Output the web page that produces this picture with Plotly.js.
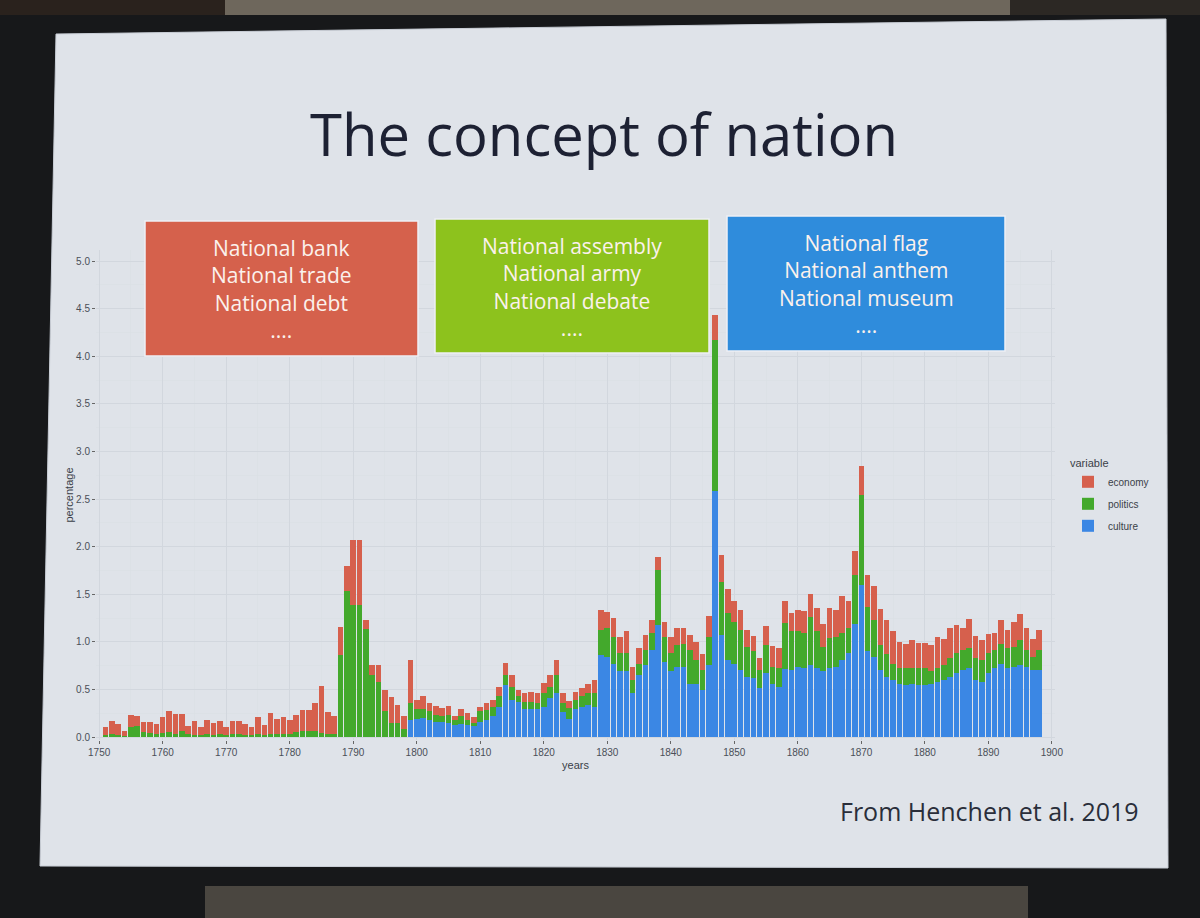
<!DOCTYPE html>
<html>
<head>
<meta charset="utf-8">
<script src="https://cdn.plot.ly/plotly-3.0.1.min.js"></script>
<style>html,body{margin:0;padding:0;background:#17181a;}#chart{width:1200px;height:918px;}</style>
</head>
<body>
<div id="chart"></div>
<script>
// ---- data ----
const years = [];
for (let y = 1751; y <= 1898; y++) years.push(y);

const culture = [
  // 1751-1760
  0,0,0,0,0,0,0,0,0,0,
  // 1761-1770
  0,0,0,0,0,0,0,0,0,0,
  // 1771-1780
  0,0,0,0,0,0,0,0,0,0,
  // 1781-1790
  0,0,0,0,0,0,0,0,0,0,
  // 1791-1800
  0,0,0,0,0,0,0,0,0.18,0.19,
  // 1801-1810
  0.20,0.18,0.16,0.16,0.15,0.13,0.14,0.13,0.12,0.16,
  // 1811-1820
  0.18,0.22,0.32,0.55,0.39,0.37,0.29,0.29,0.29,0.32,
  // 1821-1830
  0.41,0.46,0.26,0.19,0.29,0.32,0.34,0.32,0.86,0.84,
  // 1831-1840
  0.77,0.69,0.69,0.46,0.65,0.76,0.91,1.18,0.79,0.69,
  // 1841-1850
  0.74,0.74,0.56,0.56,0.49,0.76,2.58,1.07,0.81,0.77,
  // 1851-1860
  0.70,0.63,0.62,0.51,0.67,0.56,0.53,0.71,0.70,0.74,
  // 1861-1870
  0.72,0.76,0.72,0.69,0.72,0.74,0.81,0.88,1.19,1.60,
  // 1871-1880
  0.90,0.84,0.70,0.63,0.60,0.56,0.55,0.56,0.55,0.55,
  // 1881-1890
  0.56,0.58,0.60,0.63,0.67,0.70,0.72,0.60,0.58,0.67,
  // 1891-1898
  0.72,0.77,0.72,0.74,0.76,0.74,0.70,0.70
];

const politics = [
  0.02,0.03,0.02,0.01,0.10,0.12,0.05,0.04,0.03,0.04,
  0.05,0.03,0.06,0.03,0.02,0.02,0.03,0.02,0.03,0.02,
  0.03,0.03,0.02,0.02,0.03,0.02,0.03,0.03,0.03,0.03,
  0.05,0.06,0.06,0.06,0.04,0.03,0.03,0.86,1.53,1.39,
  1.39,1.13,0.65,0.58,0.27,0.15,0.15,0.08,0.18,0.10,
  0.09,0.09,0.07,0.06,0.08,0.05,0.08,0.05,0.03,0.11,
  0.10,0.10,0.11,0.10,0.14,0.06,0.08,0.08,0.07,0.14,
  0.12,0.19,0.10,0.11,0.10,0.11,0.12,0.14,0.26,0.30,
  0.28,0.19,0.19,0.14,0.12,0.15,0.18,0.57,0.26,0.19,
  0.23,0.24,0.35,0.25,0.21,0.29,1.59,0.56,0.49,0.44,
  0.42,0.32,0.28,0.19,0.30,0.18,0.19,0.49,0.41,0.37,
  0.37,0.50,0.39,0.26,0.32,0.31,0.28,0.26,0.51,0.94,
  0.47,0.39,0.27,0.24,0.17,0.16,0.17,0.16,0.17,0.17,
  0.13,0.14,0.16,0.20,0.21,0.21,0.21,0.23,0.23,0.21,
  0.19,0.21,0.21,0.21,0.26,0.17,0.14,0.21
];

const economy = [
  0.09,0.14,0.12,0.05,0.13,0.10,0.11,0.12,0.11,0.17,
  0.22,0.21,0.18,0.09,0.15,0.08,0.15,0.13,0.14,0.08,
  0.14,0.14,0.12,0.09,0.18,0.11,0.22,0.16,0.18,0.15,
  0.18,0.22,0.22,0.30,0.50,0.23,0.19,0.30,0.27,0.68,
  0.68,0.10,0.11,0.18,0.22,0.27,0.19,0.14,0.45,0.10,
  0.14,0.09,0.10,0.08,0.10,0.04,0.07,0.07,0.06,0.04,
  0.08,0.07,0.10,0.13,0.12,0.06,0.09,0.10,0.10,0.11,
  0.12,0.16,0.10,0.08,0.08,0.08,0.10,0.14,0.21,0.17,
  0.20,0.17,0.23,0.14,0.16,0.16,0.14,0.14,0.16,0.17,
  0.17,0.16,0.16,0.19,0.17,0.22,0.26,0.28,0.25,0.22,
  0.21,0.17,0.16,0.13,0.20,0.22,0.21,0.23,0.19,0.22,
  0.23,0.24,0.24,0.24,0.32,0.28,0.39,0.29,0.25,0.31,
  0.33,0.36,0.37,0.36,0.34,0.28,0.26,0.30,0.27,0.27,
  0.28,0.33,0.27,0.32,0.30,0.24,0.31,0.23,0.21,0.20,
  0.18,0.25,0.19,0.26,0.27,0.23,0.19,0.21
];

const xTicks = [1750,1760,1770,1780,1790,1800,1810,1820,1830,1840,1850,1860,1870,1880,1890,1900];
const yTicks = [0,0.5,1,1.5,2,2.5,3,3.5,4,4.5,5];

const slideTitle = "The concept of nation";
const boxEconomy = ["National bank","National trade","National debt","...."];
const boxPolitics = ["National assembly","National army","National debate","...."];
const boxCulture = ["National flag","National anthem","National museum","...."];
const sourceNote = "From Henchen et al. 2019";

// ---- layout geometry (pixels) ----
const L = 96, R = 1055, T = 250, B = 740;
const fx = p => (p - L) / (R - L);
const fy = p => (B - p) / (B - T);

const colEco = "#d6604d", colPol = "#43a92c", colCul = "#3b87e4";
const tickFont = {family: "Liberation Sans, Arial, sans-serif", size: 10, color: "#4a4f58"};

const traces = [
  {type: "bar", name: "culture", legendgroup: "c", legendrank: 3, x: years, y: culture, marker: {color: colCul}, hovertemplate: "%{x}: %{y}<extra>culture</extra>"},
  {type: "bar", name: "politics", legendgroup: "p", legendrank: 2, x: years, y: politics, marker: {color: colPol}, hovertemplate: "%{x}: %{y}<extra>politics</extra>"},
  {type: "bar", name: "economy", legendgroup: "e", legendrank: 1, x: years, y: economy, marker: {color: colEco}, hovertemplate: "%{x}: %{y}<extra>economy</extra>"}
];

function box(x0, y0, x1, y1, fill) {
  return {type: "rect", xref: "paper", yref: "paper", x0: fx(x0), x1: fx(x1), y0: fy(y1), y1: fy(y0),
          fillcolor: fill, line: {color: "#eef0f5", width: 1.5}, layer: "above"};
}
function boxText(lines, cx, cy) {
  return {xref: "paper", yref: "paper", x: fx(cx), y: fy(cy), xanchor: "center", yanchor: "middle",
          showarrow: false, align: "center", text: lines.join("<br>"),
          font: {family: "Open Sans, sans-serif", size: 21, color: "#fbf1ec"}};
}

const layout = {
  width: 1200, height: 918,
  margin: {l: L, r: 1200 - R, t: T, b: 918 - B},
  paper_bgcolor: "#17181a",
  plot_bgcolor: "#e4e8ed",
  barmode: "stack",
  bargap: 0.12,
  showlegend: true,
  legend: {
    x: fx(1068), y: fy(453), xanchor: "left", yanchor: "top",
    traceorder: "grouped", tracegroupgap: 3, bgcolor: "rgba(0,0,0,0)",
    font: {family: "Liberation Sans, Arial, sans-serif", size: 10, color: "#3a3f48"},
    title: {text: "variable", font: {family: "Liberation Sans, Arial, sans-serif", size: 11, color: "#3a3f48"}}
  },
  xaxis: {
    range: [1749.5, 1900.5], tickvals: xTicks, ticktext: xTicks.map(String),
    ticks: "outside", ticklen: 3, tickcolor: "#666", tickfont: tickFont,
    showgrid: true, gridcolor: "#d2d7de", gridwidth: 1, zeroline: false,
    minor: {dtick: 5, tick0: 1750, showgrid: true, gridcolor: "#dadfe5", gridwidth: 0.6},
    title: {text: "years", standoff: 4, font: {family: "Liberation Sans, Arial, sans-serif", size: 11, color: "#3a3f48"}},
    fixedrange: true
  },
  yaxis: {
    range: [-0.0315, 5.1155], tickvals: yTicks, tickformat: ".1f",
    ticks: "outside", ticklen: 3, tickcolor: "#666", tickfont: tickFont,
    showgrid: true, gridcolor: "#d2d7de", gridwidth: 1, zeroline: false,
    minor: {dtick: 0.25, tick0: 0, showgrid: true, gridcolor: "#dadfe5", gridwidth: 0.6},
    title: {text: "percentage", standoff: 0, font: {family: "Liberation Sans, Arial, sans-serif", size: 11, color: "#3a3f48"}},
    fixedrange: true
  },
  shapes: [
    // surroundings of the projected slide
    {type: "rect", xref: "paper", yref: "paper", x0: fx(0), x1: fx(225), y0: fy(15), y1: fy(0), fillcolor: "#2a221d", line: {width: 0}, layer: "below"},
    {type: "rect", xref: "paper", yref: "paper", x0: fx(225), x1: fx(1010), y0: fy(15), y1: fy(0), fillcolor: "#6e675c", line: {width: 0}, layer: "below"},
    {type: "rect", xref: "paper", yref: "paper", x0: fx(1010), x1: fx(1200), y0: fy(15), y1: fy(0), fillcolor: "#2c2824", line: {width: 0}, layer: "below"},
    {type: "rect", xref: "paper", yref: "paper", x0: fx(205), x1: fx(1028), y0: fy(918), y1: fy(886), fillcolor: "#4a4640", line: {width: 0}, layer: "below"},
    // the slide itself
    {type: "path", xref: "paper", yref: "paper", layer: "below",
     path: "M " + fx(56) + "," + fy(34) + " L " + fx(1166) + "," + fy(19) + " L " + fx(1168) + "," + fy(868) + " L " + fx(40) + "," + fy(866) + " Z",
     fillcolor: "#dfe3e9", line: {color: "#c9ced6", width: 1}},
    // coloured boxes
    box(145, 221, 418, 356, "#d5614c"),
    box(435, 219, 709, 353, "#8dc21d"),
    box(727, 216, 1005, 351, "#2f8cdc")
  ],
  annotations: [
    {xref: "paper", yref: "paper", x: fx(604), y: fy(133), xanchor: "center", yanchor: "middle", showarrow: false,
     text: slideTitle, font: {family: "Open Sans, sans-serif", size: 58, color: "#1d2133"}},
    boxText(boxEconomy, 281, 289),
    boxText(boxPolitics, 572, 287),
    boxText(boxCulture, 866, 284),
    {xref: "paper", yref: "paper", x: fx(1141), y: fy(811), xanchor: "right", yanchor: "middle", showarrow: false,
     text: sourceNote, font: {family: "Open Sans, sans-serif", size: 25, color: "#2a2e3a"}}
  ]
};

Plotly.newPlot("chart", traces, layout, {displayModeBar: false, staticPlot: true});
</script>
</body>
</html>
